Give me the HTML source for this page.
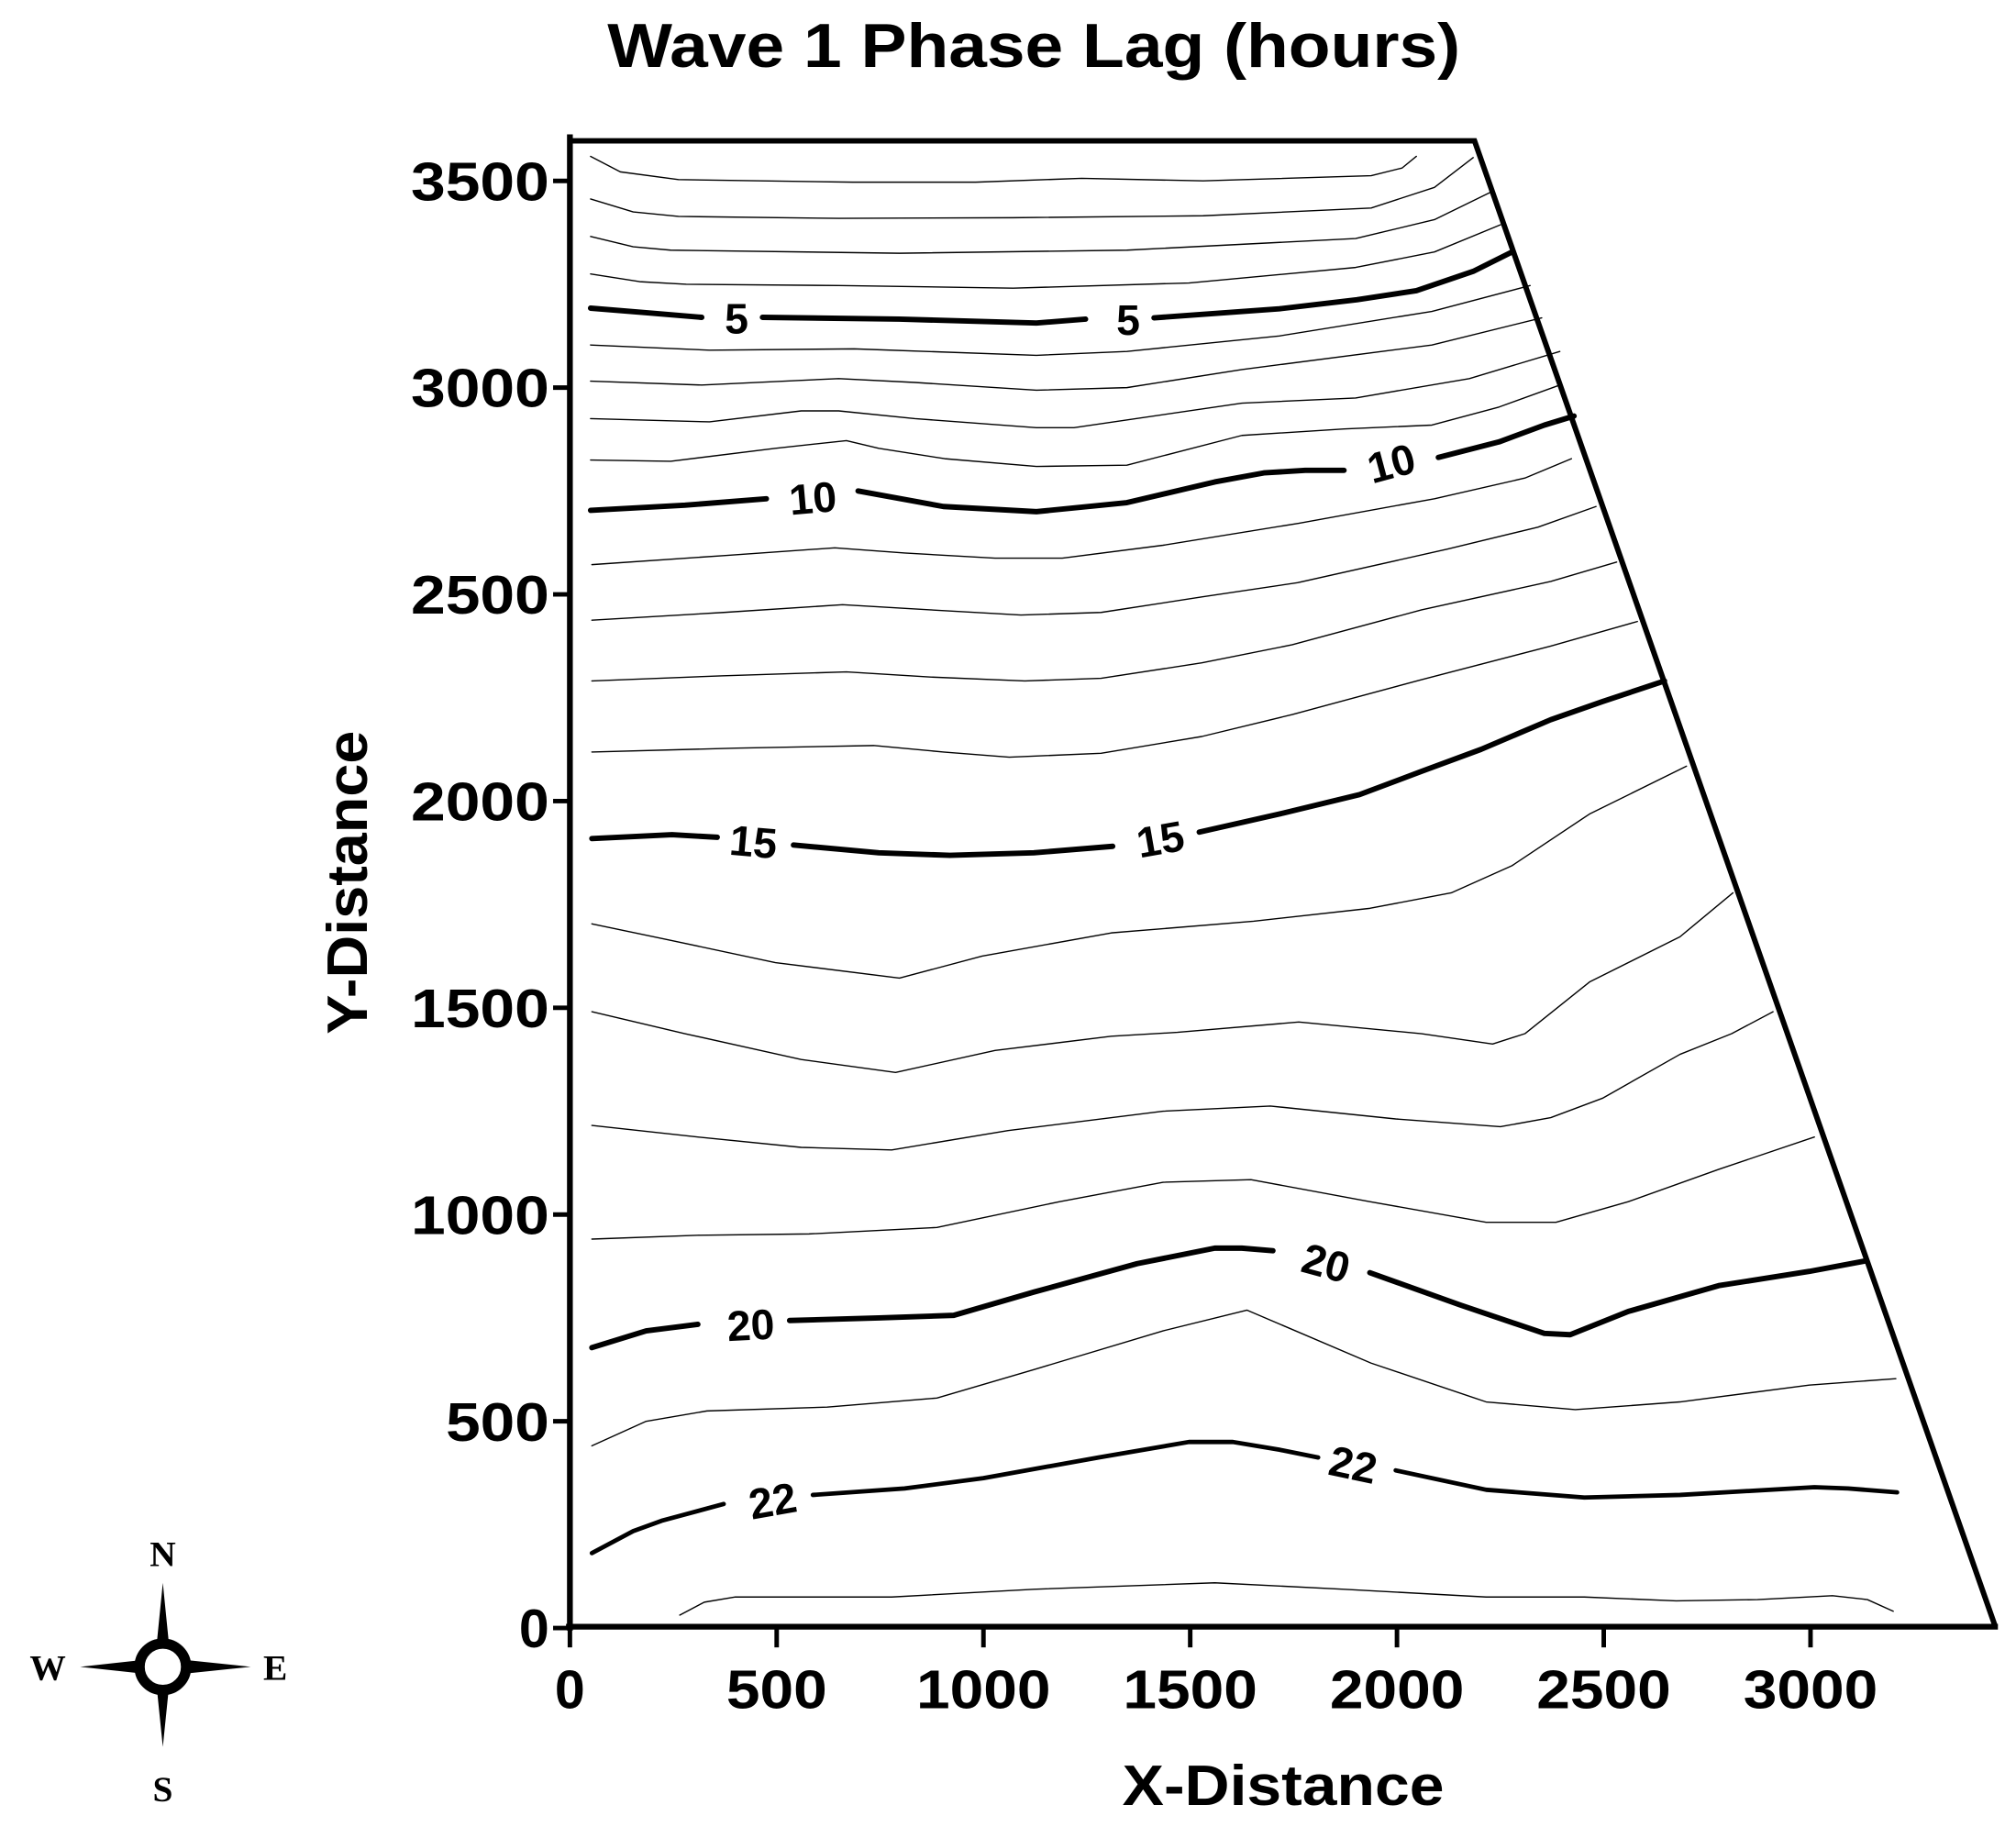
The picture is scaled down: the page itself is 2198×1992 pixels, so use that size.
<!DOCTYPE html>
<html><head><meta charset="utf-8"><style>
html,body{margin:0;padding:0;background:#fff}
svg{display:block}
text{font-family:"Liberation Sans",Arial,sans-serif;font-weight:bold;fill:#000}
.t{fill:none;stroke:#000;stroke-width:1;stroke-linejoin:round;stroke-linecap:round}
.k{fill:none;stroke:#000;stroke-width:4.2;stroke-linejoin:round;stroke-linecap:round}
.cl{font-size:33px}
.tk{font-size:42px}
</style></head><body>
<svg width="2198" height="1992" viewBox="0 0 1560 1414" preserveAspectRatio="none" xmlns="http://www.w3.org/2000/svg">
<rect width="1560" height="1414" fill="#fff"/>
<!-- Title -->
<text x="800" y="52" font-size="48" text-anchor="middle" textLength="660" lengthAdjust="spacingAndGlyphs">Wave 1 Phase Lag (hours)</text>

<!-- thin contours -->
<polyline class="t" points="457,121 480,133 525,139 660,141 755,141 837,138 931,140 1061,136 1085,130 1096,121"/>
<polyline class="t" points="457,154 490,164 525,167.5 649,169 784,168.5 931,167 1061,161 1110,145 1140,122"/>
<polyline class="t" points="457,183 490,191 519,193.6 696,196 872,193.6 1049,184.6 1110,170 1155,148"/>
<polyline class="t" points="457,212 495,218 531,220 649,221 784,223 920,219 1049,207 1110,195 1161,174"/>
<polyline class="t" points="457,267 549,271 661,270 802,275 872,272 990,260 1108,241 1184,221"/>
<polyline class="t" points="457,295 543,298 649,293 708,296 802,302 872,300 961,286 1108,267 1193,246"/>
<polyline class="t" points="457,324 549,326.5 620,318 649,318 708,324 802,331 831,331 961,312 1049,308 1137,293 1207,272"/>
<polyline class="t" points="457,356 519,357 600,347 655,341 680,347 731,355 802,361 872,360 961,337 1040,332 1108,329 1160,315 1207,298"/>
<polyline class="t" points="458,437 560,430 646,424 700,428 770,432 822,432 900,422 1005,405 1110,386 1180,370 1216,355"/>
<polyline class="t" points="458,480 560,474 652,468 720,472 790,476 852,474 930,462 1004,451 1120,425 1190,408 1235,392"/>
<polyline class="t" points="458,527 560,523 655,520 720,524 793,527 852,525 930,513 1000,499 1100,472 1200,450 1251,435"/>
<polyline class="t" points="458,582 570,579 676,577 730,582 781,586 852,583 930,570 1000,553 1100,526 1200,500 1267,481"/>
<polyline class="t" points="458,715 520,728 600,745 696,757 760,740 860,722 970,713 1060,703 1123,691 1170,670 1230,630 1305,593"/>
<polyline class="t" points="458,783 530,800 620,820 693,830 770,813 860,802 911,799 1005,791 1100,800 1155,808 1180,800 1230,760 1300,725 1341,691"/>
<polyline class="t" points="458,871 540,880 620,888 690,890 780,875 900,860 983,856 1080,866 1161,872 1200,865 1240,850 1300,816 1340,800 1372,783"/>
<polyline class="t" points="458,959 540,956 626,955 725,950 820,930 900,915 968,913 1060,930 1150,946 1204,946 1260,930 1330,905 1404,880"/>
<polyline class="t" points="458,1119 500,1100 547,1092 640,1089 725,1082 800,1060 900,1030 965,1014 1061,1055 1150,1085 1219,1091 1300,1085 1400,1072 1467,1067"/>
<polyline class="t" points="526,1250 545,1240 569,1236 690,1236 800,1230 940,1225 1040,1230 1150,1236 1226,1236 1297,1239 1360,1238 1418,1235 1445,1238 1465,1247"/>

<!-- thick contours -->
<polyline class="k" points="457,238.5 500,242 543,245.6"/>
<polyline class="k" points="590,245.6 696,247 802,250 840,247"/>
<polyline class="k" points="893,246 990,239 1050,232 1096,225 1140,210 1170,195"/>
<polyline class="k" points="457,395 530,391 593,386"/>
<polyline class="k" points="664,380 730,392 802,396 872,389 940,373 978,366 1010,364 1040,364"/>
<polyline class="k" points="1113,354 1160,342 1195,329 1218,322"/>
<polyline class="k" points="458,649 520,646 555,648"/>
<polyline class="k" points="614,654 680,660 735,662 800,660 861,655"/>
<polyline class="k" points="928,644 990,630 1052,615 1100,597 1146,580 1200,557 1240,543 1288,527"/>
<polyline class="k" points="458,1043 500,1030 540,1025"/>
<polyline class="k" points="611,1022 680,1020 738,1018 800,1000 880,978 940,966 961,966 985,968"/>
<polyline class="k" points="1060,985 1130,1010 1195,1032 1215,1033 1260,1015 1330,995 1400,984 1443,976"/>
<polyline class="k" style="stroke-width:3.4" points="458,1202 490,1185 512,1177 560,1164"/>
<polyline class="k" style="stroke-width:3.4" points="629,1157 700,1152 761,1144 850,1128 920,1116 954,1116 990,1122 1020,1128"/>
<polyline class="k" style="stroke-width:3.4" points="1080,1138 1150,1153 1226,1159 1300,1157 1404,1151 1430,1152 1468,1155"/>

<!-- contour labels -->
<text class="cl" x="570" y="258" text-anchor="middle">5</text>
<text class="cl" x="873" y="259" text-anchor="middle">5</text>
<text class="cl" x="629" y="397" text-anchor="middle" transform="rotate(-5 629 386)">10</text>
<text class="cl" x="1077" y="370" text-anchor="middle" transform="rotate(-15 1077 360)">10</text>
<text class="cl" x="583" y="663" text-anchor="middle" transform="rotate(5 583 652)">15</text>
<text class="cl" x="898" y="661" text-anchor="middle" transform="rotate(-10 898 650)">15</text>
<text class="cl" x="581" y="1037" text-anchor="middle" transform="rotate(-3 581 1026)">20</text>
<text class="cl" x="1026" y="989" text-anchor="middle" transform="rotate(15 1026 978)">20</text>
<text class="cl" x="598" y="1173" text-anchor="middle" transform="rotate(-10 598 1162)">22</text>
<text class="cl" x="1047" y="1145" text-anchor="middle" transform="rotate(12 1047 1134)">22</text>

<!-- boundary -->
<polyline fill="none" stroke="#000" stroke-width="4.2" stroke-linejoin="miter" points="441,109 1141,109 1544,1259"/>
<line x1="441" y1="104" x2="441" y2="1262" stroke="#000" stroke-width="4.5"/>
<line x1="438" y1="1259" x2="1546" y2="1259" stroke="#000" stroke-width="4.5"/>

<!-- y ticks -->
<g stroke="#000" stroke-width="3.5">
<line x1="428" y1="1260" x2="441" y2="1260"/>
<line x1="428" y1="1100" x2="441" y2="1100"/>
<line x1="428" y1="940" x2="441" y2="940"/>
<line x1="428" y1="780" x2="441" y2="780"/>
<line x1="428" y1="620" x2="441" y2="620"/>
<line x1="428" y1="460" x2="441" y2="460"/>
<line x1="428" y1="300" x2="441" y2="300"/>
<line x1="428" y1="140" x2="441" y2="140"/>
<line x1="441" y1="1259" x2="441" y2="1275"/>
<line x1="601" y1="1259" x2="601" y2="1275"/>
<line x1="761" y1="1259" x2="761" y2="1275"/>
<line x1="921" y1="1259" x2="921" y2="1275"/>
<line x1="1081" y1="1259" x2="1081" y2="1275"/>
<line x1="1241" y1="1259" x2="1241" y2="1275"/>
<line x1="1401" y1="1259" x2="1401" y2="1275"/>
</g>
<g class="tk">
<text x="425" y="1275" text-anchor="end" font-size="42">0</text>
<text x="425" y="1115" text-anchor="end" font-size="42" textLength="80" lengthAdjust="spacingAndGlyphs">500</text>
<text x="425" y="955" text-anchor="end" font-size="42" textLength="107" lengthAdjust="spacingAndGlyphs">1000</text>
<text x="425" y="795" text-anchor="end" font-size="42" textLength="107" lengthAdjust="spacingAndGlyphs">1500</text>
<text x="425" y="635" text-anchor="end" font-size="42" textLength="107" lengthAdjust="spacingAndGlyphs">2000</text>
<text x="425" y="475" text-anchor="end" font-size="42" textLength="107" lengthAdjust="spacingAndGlyphs">2500</text>
<text x="425" y="315" text-anchor="end" font-size="42" textLength="107" lengthAdjust="spacingAndGlyphs">3000</text>
<text x="425" y="155" text-anchor="end" font-size="42" textLength="107" lengthAdjust="spacingAndGlyphs">3500</text>
<text x="441" y="1322" text-anchor="middle" font-size="42">0</text>
<text x="601" y="1322" text-anchor="middle" font-size="42" textLength="78" lengthAdjust="spacingAndGlyphs">500</text>
<text x="761" y="1322" text-anchor="middle" font-size="42" textLength="104" lengthAdjust="spacingAndGlyphs">1000</text>
<text x="921" y="1322" text-anchor="middle" font-size="42" textLength="104" lengthAdjust="spacingAndGlyphs">1500</text>
<text x="1081" y="1322" text-anchor="middle" font-size="42" textLength="104" lengthAdjust="spacingAndGlyphs">2000</text>
<text x="1241" y="1322" text-anchor="middle" font-size="42" textLength="104" lengthAdjust="spacingAndGlyphs">2500</text>
<text x="1401" y="1322" text-anchor="middle" font-size="42" textLength="104" lengthAdjust="spacingAndGlyphs">3000</text>
</g>
<text x="993" y="1397" font-size="44" text-anchor="middle" textLength="249" lengthAdjust="spacingAndGlyphs">X-Distance</text>
<text x="0" y="0" font-size="44" text-anchor="middle" textLength="235" lengthAdjust="spacingAndGlyphs" transform="translate(284 683) rotate(-90)">Y-Distance</text>

<!-- compass -->
<g>
<polygon points="126,1225 131,1275 121,1275" fill="#000"/>
<polygon points="126,1352 131,1303 121,1303" fill="#000"/>
<polygon points="62,1290 108,1285 108,1295" fill="#000"/>
<polygon points="194,1290 146,1285 146,1295" fill="#000"/>
<circle cx="126" cy="1290" r="18" fill="#fff" stroke="#000" stroke-width="8"/>
<text x="126" y="1212" font-family="Liberation Serif,serif" font-weight="normal" font-size="28" text-anchor="middle" style="font-family:'Liberation Serif',serif">N</text>
<text x="37" y="1300" font-size="28" text-anchor="middle" style="font-family:'Liberation Serif',serif">W</text>
<text x="213" y="1300" font-size="28" text-anchor="middle" style="font-family:'Liberation Serif',serif">E</text>
<text x="126" y="1394" font-size="28" text-anchor="middle" style="font-family:'Liberation Serif',serif">S</text>
</g>
</svg>
</body></html>
